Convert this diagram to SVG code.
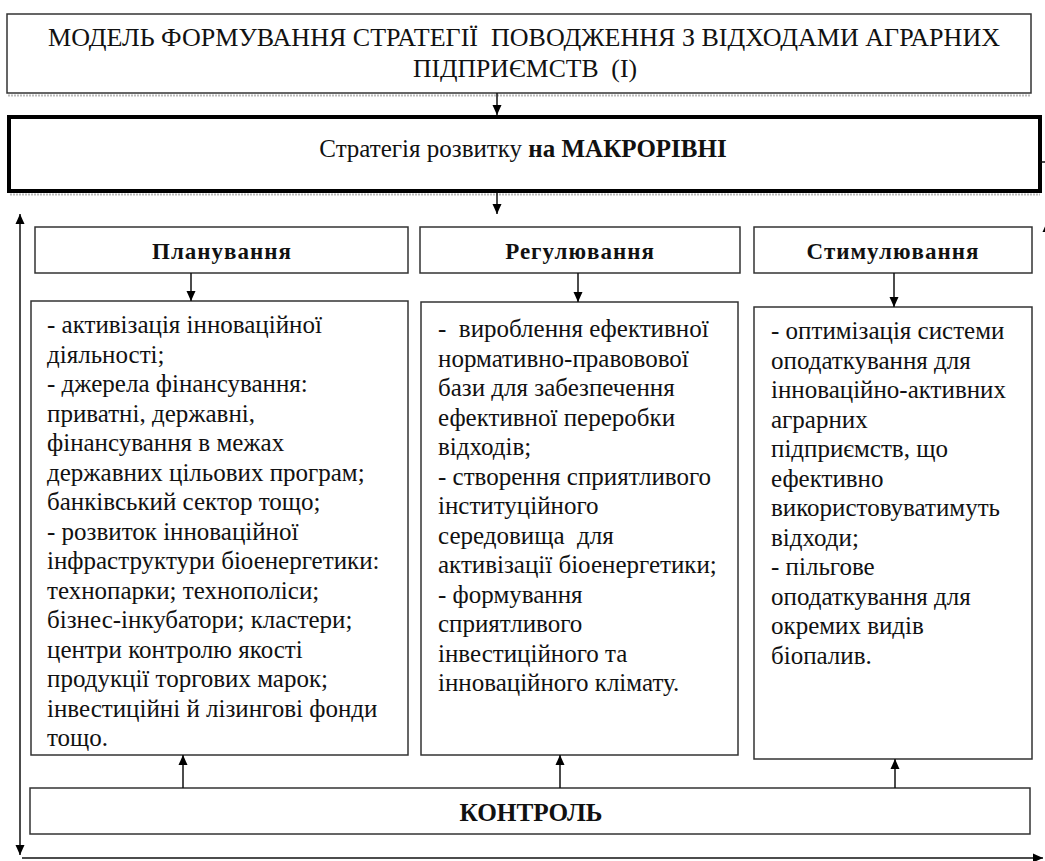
<svg xmlns="http://www.w3.org/2000/svg" width="1045" height="861" viewBox="0 0 1045 861">
<defs>
<style>
.box{fill:#fff;stroke:#333;stroke-width:1.5}
.thick{fill:#fff;stroke:#000;stroke-width:4}
.t{font-family:"Liberation Serif","Times New Roman",serif;font-size:25px;fill:#111}
.b{font-weight:bold}
.h{font-family:"Liberation Serif","Times New Roman",serif;font-size:23px;font-weight:bold;fill:#111;letter-spacing:1px}
.c{stroke:#111;stroke-width:1.5;fill:none}
.sh{stroke:#bbb;stroke-width:2;stroke-dasharray:2 1;fill:none}
</style>
<marker id="ah" viewBox="0 0 10 10" refX="10" refY="5" markerWidth="10" markerHeight="10" markerUnits="userSpaceOnUse" orient="auto-start-reverse">
<path d="M0,0.5 L10,5 L0,9.5 z" fill="#000"/>
</marker>
</defs>
<rect width="1045" height="861" fill="#fff"/>

<g id="top">
<rect class="box" x="7" y="14" width="1024" height="79"/>
<path class="sh" d="M8,95.5 H1031"/>
<text class="t" xml:space="preserve" x="524" y="46" text-anchor="middle" textLength="952" lengthAdjust="spacingAndGlyphs">МОДЕЛЬ ФОРМУВАННЯ СТРАТЕГІЇ  ПОВОДЖЕННЯ З ВІДХОДАМИ АГРАРНИХ</text>
<text class="t" xml:space="preserve" x="525" y="77" text-anchor="middle" textLength="224" lengthAdjust="spacingAndGlyphs">ПІДПРИЄМСТВ  (І)</text>
</g>

<g id="macro">
<rect class="thick" x="9" y="117" width="1031" height="74"/>
<path class="sh" d="M10,194.5 H1040"/>
<text class="t" x="523" y="157" text-anchor="middle">Стратегія розвитку <tspan class="b">на МАКРОРІВНІ</tspan></text>
</g>

<g id="planning">
<rect class="box" x="35" y="227" width="373" height="46"/>
<text class="h" x="222" y="259" text-anchor="middle">Планування</text>
</g>
<g id="regulation">
<rect class="box" x="420" y="227" width="320" height="46"/>
<text class="h" x="580" y="259" text-anchor="middle">Регулювання</text>
</g>
<g id="stimulation">
<rect class="box" x="754" y="227" width="278" height="46"/>
<text class="h" x="893" y="259" text-anchor="middle">Стимулювання</text>
</g>

<g id="planning-content">
<rect class="box" x="31" y="301" width="377" height="454"/>
<text class="t" x="47" y="333">
<tspan x="47" dy="0">- активізація інноваційної</tspan>
<tspan x="47" dy="29.5">діяльності;</tspan>
<tspan x="47" dy="29.5">- джерела фінансування:</tspan>
<tspan x="47" dy="29.5">приватні, державні,</tspan>
<tspan x="47" dy="29.5">фінансування в межах</tspan>
<tspan x="47" dy="29.5">державних цільових програм;</tspan>
<tspan x="47" dy="29.5">банківський сектор тощо;</tspan>
<tspan x="47" dy="29.5">- розвиток інноваційної</tspan>
<tspan x="47" dy="29.5">інфраструктури біоенергетики:</tspan>
<tspan x="47" dy="29.5">технопарки; технополіси;</tspan>
<tspan x="47" dy="29.5">бізнес-інкубатори; кластери;</tspan>
<tspan x="47" dy="29.5">центри контролю якості</tspan>
<tspan x="47" dy="29.5">продукції торгових марок;</tspan>
<tspan x="47" dy="29.5">інвестиційні й лізингові фонди</tspan>
<tspan x="47" dy="29.5">тощо.</tspan>
</text>
</g>

<g id="regulation-content">
<rect class="box" x="421" y="302" width="317" height="453"/>
<text class="t" xml:space="preserve" x="438" y="337"><tspan x="438" dy="0">-  вироблення ефективної</tspan><tspan x="438" dy="29.5">нормативно-правовової</tspan><tspan x="438" dy="29.5">бази для забезпечення</tspan><tspan x="438" dy="29.5">ефективної переробки</tspan><tspan x="438" dy="29.5">відходів;</tspan><tspan x="438" dy="29.5">- створення сприятливого</tspan><tspan x="438" dy="29.5">інституційного</tspan><tspan x="438" dy="29.5">середовища  для</tspan><tspan x="438" dy="29.5">активізації біоенергетики;</tspan><tspan x="438" dy="29.5">- формування</tspan><tspan x="438" dy="29.5">сприятливого</tspan><tspan x="438" dy="29.5">інвестиційного та</tspan><tspan x="438" dy="29.5">інноваційного клімату.</tspan></text>
</g>

<g id="stimulation-content">
<rect class="box" x="754" y="307" width="278" height="452"/>
<text class="t" x="771" y="339">
<tspan x="771" dy="0">- оптимізація системи</tspan>
<tspan x="771" dy="29.5">оподаткування для</tspan>
<tspan x="771" dy="29.5">інноваційно-активних</tspan>
<tspan x="771" dy="29.5">аграрних</tspan>
<tspan x="771" dy="29.5">підприємств, що</tspan>
<tspan x="771" dy="29.5">ефективно</tspan>
<tspan x="771" dy="29.5">використовуватимуть</tspan>
<tspan x="771" dy="29.5">відходи;</tspan>
<tspan x="771" dy="29.5">- пільгове</tspan>
<tspan x="771" dy="29.5">оподаткування для</tspan>
<tspan x="771" dy="29.5">окремих видів</tspan>
<tspan x="771" dy="29.5">біопалив.</tspan>
</text>
</g>

<g id="control">
<rect class="box" x="30" y="788" width="1000" height="46"/>
<text class="t b" x="531" y="821" text-anchor="middle" font-size="26" textLength="143" lengthAdjust="spacingAndGlyphs">КОНТРОЛЬ</text>
</g>

<g id="connectors">
<path class="c" d="M497,93 V115" marker-end="url(#ah)"/>
<path class="c" d="M497,193 V214" marker-end="url(#ah)"/>
<path class="c" d="M191,273 V301" marker-end="url(#ah)"/>
<path class="c" d="M578,273 V302" marker-end="url(#ah)"/>
<path class="c" d="M894,273 V307" marker-end="url(#ah)"/>
<path class="c" d="M183,788 V755" marker-end="url(#ah)"/>
<path class="c" d="M560,788 V755" marker-end="url(#ah)"/>
<path class="c" d="M895,788 V759" marker-end="url(#ah)"/>
<path class="c" d="M20,855 V214" marker-start="url(#ah)" marker-end="url(#ah)"/>
<path class="c" d="M22,858 H1043" marker-end="url(#ah)"/>
<path class="c" d="M1047,858 V222" marker-end="url(#ah)"/>
<path class="c" d="M1040,162 H1045"/>
</g>
</svg>
